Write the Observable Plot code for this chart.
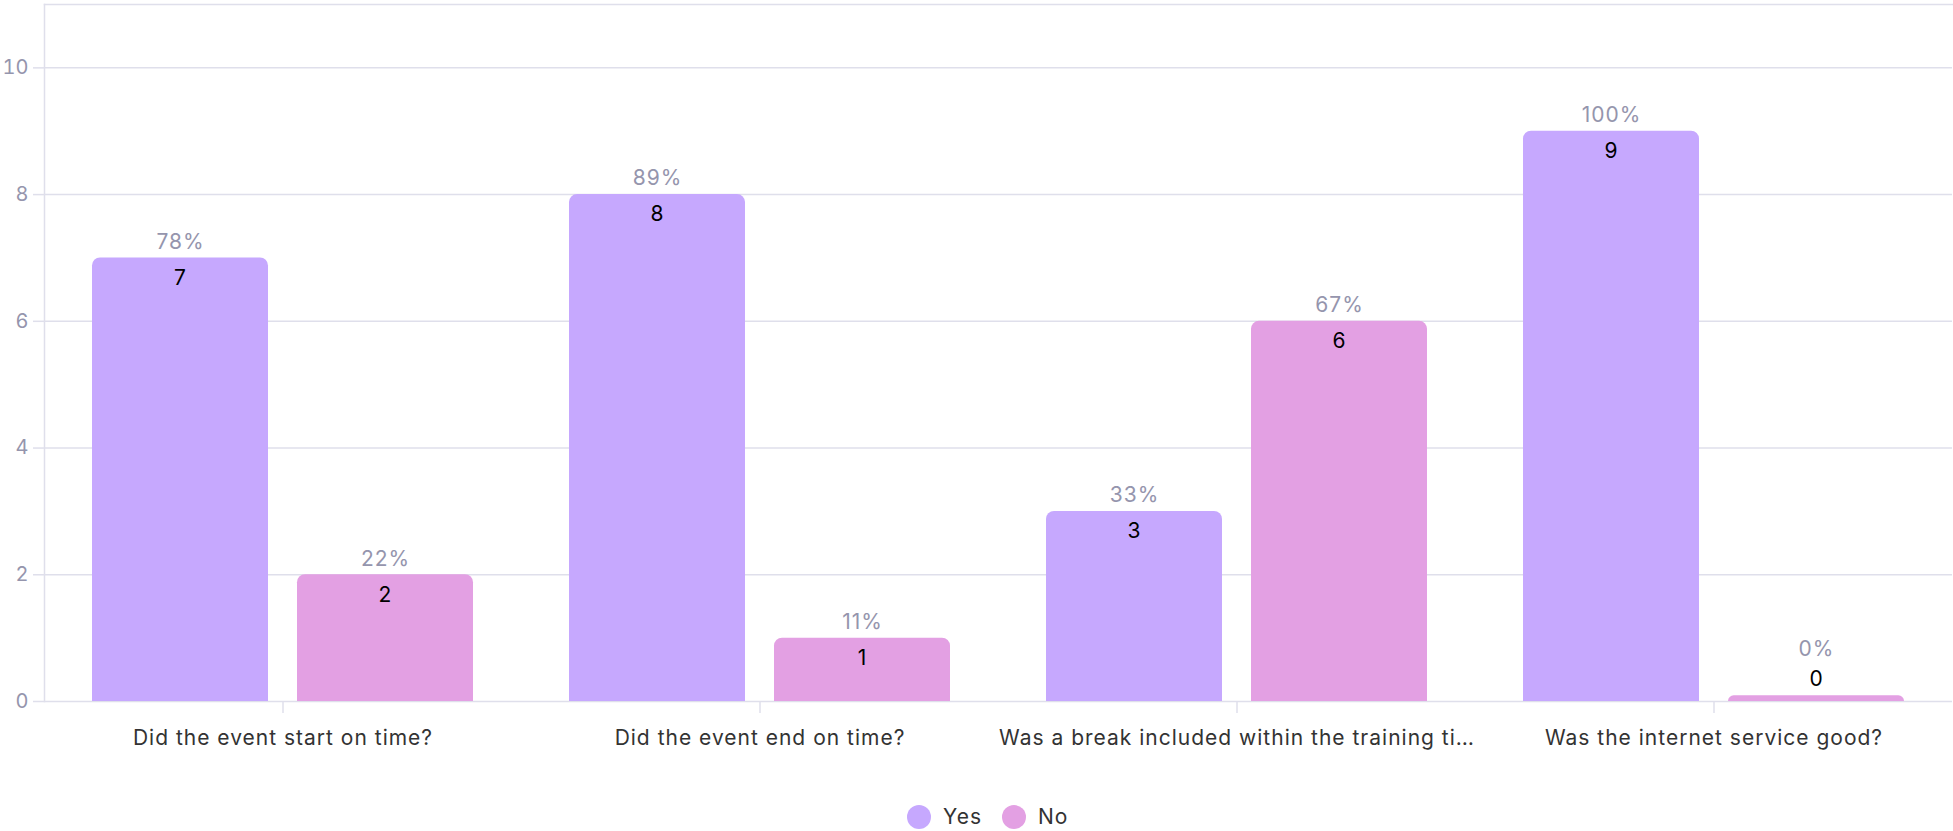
<!DOCTYPE html>
<html>
<head>
<meta charset="utf-8">
<script src="https://cdn.jsdelivr.net/npm/d3@7"></script>
<script src="https://cdn.jsdelivr.net/npm/@observablehq/plot@0.6"></script>
<style>
  html, body { margin: 0; padding: 0; background: #fff; }
  #wrap { position: relative; width: 1953px; height: 831px; font-family: Inter, sans-serif; }
  #legend { position: absolute; left: 907px; top: 805px; display: flex; align-items: center; font-size: 21px; color: #333; line-height: 24px; letter-spacing: 1px; }
  .sw { width: 24px; height: 24px; border-radius: 50%; display: inline-block; margin-right: 12px; }
  .item { display: flex; align-items: center; margin-right: 20px; }
</style>
</head>
<body>
<div id="wrap"><div id="chart"></div><div id="legend"></div></div>
<script>
const questions = [
  "Did the event start on time?",
  "Did the event end on time?",
  "Was a break included within the training ti\u2026",
  "Was the internet service good?"
];
const answers = ["Yes", "No"];
const yesCounts = [7, 8, 3, 9];
const noCounts = [2, 1, 6, 0];
const yTicks = [0, 2, 4, 6, 8, 10];
const colors = ["#c6a8fe", "#e3a0e3"];

const gridColor = "#dfdfeb";
const tickColor = "#9595ad";
const minBar = 0.09;

const rows = [];
questions.forEach((q, i) => {
  const total = yesCounts[i] + noCounts[i];
  [yesCounts[i], noCounts[i]].forEach((c, j) => {
    rows.push({question: q, answer: answers[j], count: c,
      pct: Math.round(100 * c / total) + "%", top: Math.max(c, minBar)});
  });
});

const chart = Plot.plot({
  width: 1953,
  height: 790,
  marginLeft: 44,
  marginRight: 1,
  marginTop: 4,
  marginBottom: 89,
  style: {fontFamily: "Inter, sans-serif", fontSize: "21px", background: "#fff", letterSpacing: "1px"},
  fx: {domain: questions, padding: 0, label: null},
  x: {domain: answers, paddingInner: 0.1415, paddingOuter: 0.234, axis: null},
  y: {domain: [0, 11], label: null},
  color: {domain: answers, range: colors},
  marks: [
    Plot.ruleY(yTicks, {stroke: gridColor, strokeWidth: 1.5}),
    Plot.frame({anchor: "top", facet: "super", stroke: gridColor, strokeWidth: 1.5}),
    Plot.frame({anchor: "left", facet: "super", stroke: gridColor, strokeWidth: 1.5}),
    Plot.axisY({ticks: yTicks, tickSize: 11, tickPadding: 5, stroke: gridColor, strokeWidth: 1.5, fill: tickColor, fontSize: 20, label: null}),
    Plot.axisFx({anchor: "bottom", tickSize: 12, tickPadding: 17, stroke: gridColor, strokeWidth: 1.5, fill: "#333", fontSize: 21, label: null}),
    Plot.barY(rows, {fx: "question", x: "answer", y1: 0, y2: "top", fill: "answer", ry1: 8}),
    Plot.text(rows.filter(d => d.count > 0), {fx: "question", x: "answer", y: "top", text: d => String(d.count), dy: 20, fill: "#000", fontSize: 21}),
    Plot.text(rows.filter(d => d.count > 0), {fx: "question", x: "answer", y: "top", text: "pct", dy: -16, fill: tickColor, fontSize: 21}),
    Plot.text(rows.filter(d => d.count === 0), {fx: "question", x: "answer", y: "top", text: d => String(d.count), dy: -17, fill: "#000", fontSize: 21}),
    Plot.text(rows.filter(d => d.count === 0), {fx: "question", x: "answer", y: "top", text: "pct", dy: -47, fill: tickColor, fontSize: 21})
  ]
});
d3.select(chart).selectAll('g[aria-label="y-axis tick label"]').attr("letter-spacing", "0");
document.getElementById("chart").appendChild(chart);

const legend = document.getElementById("legend");
answers.forEach((a, i) => {
  const item = document.createElement("span");
  item.className = "item";
  const sw = document.createElement("span");
  sw.className = "sw";
  sw.style.background = colors[i];
  item.appendChild(sw);
  item.appendChild(document.createTextNode(a));
  legend.appendChild(item);
});
</script>
</body>
</html>
